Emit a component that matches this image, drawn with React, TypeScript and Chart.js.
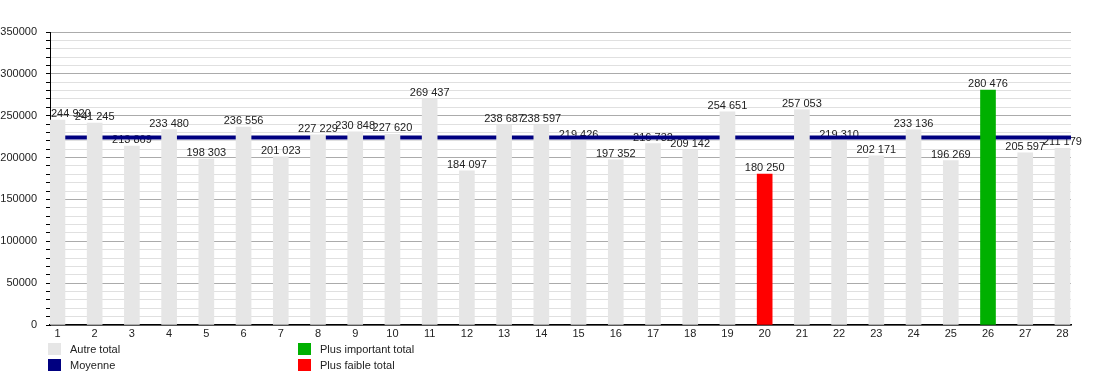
import React, { useEffect, useRef } from "react";
import { Chart, registerables } from "chart.js";

Chart.register(...registerables);

const days: number[] = [
  1, 2, 3, 4, 5, 6, 7, 8, 9, 10, 11, 12, 13, 14, 15, 16, 17, 18, 19, 20, 21, 22, 23, 24, 25, 26, 27, 28,
];
const totals: number[] = [
  244920, 241245, 213869, 233480, 198303, 236556, 201023, 227229, 230848, 227620, 269437, 184097,
  238687, 238597, 219426, 197352, 216732, 209142, 254651, 180250, 257053, 219310, 202171, 233136,
  196269, 280476, 205597, 211179,
];
const yTicks: number[] = [0, 50000, 100000, 150000, 200000, 250000, 300000, 350000];
const legendLabels: string[] = ["Autre total", "Moyenne", "Plus important total", "Plus faible total"];

const X_MIN = 0.8;
const X_MAX = 28.23;
const FONT = "'Liberation Sans', Arial, sans-serif";

const COL_OTHER = "#e6e6e6";
const COL_MEAN = "#000080";
const COL_MAX = "#00b000";
const COL_MIN = "#ff0000";

function fmt(v: number): string {
  return String(Math.round(v)).replace(/\B(?=(\d{3})+(?!\d))/g, " ");
}

const labelPlugin = {
  id: "barLabels",
  beforeDatasetsDraw(chart: any) {
    const ctx = chart.ctx;
    const meta = chart.getDatasetMeta(0);
    const area = chart.chartArea;
    ctx.save();
    ctx.font = `11px ${FONT}`;
    ctx.fillStyle = "#222";
    ctx.textBaseline = "alphabetic";
    ctx.textAlign = "left";
    meta.data.forEach((el: any, i: number) => {
      const text = fmt(totals[i]);
      const w = ctx.measureText(text).width;
      let x = el.x - w / 2;
      if (x < area.left + 1) x = area.left + 1;
      ctx.fillText(text, x, el.y - 3);
    });
    ctx.restore();
  },
};

export default function App() {
  const ref = useRef<HTMLCanvasElement | null>(null);

  useEffect(() => {
    if (!ref.current) return;
    const maxV = Math.max(...totals);
    const minV = Math.min(...totals);
    const mean = totals.reduce((a, b) => a + b, 0) / totals.length;
    const colors = totals.map((v) => (v === maxV ? COL_MAX : v === minV ? COL_MIN : COL_OTHER));

    const chart = new Chart(ref.current, {
      type: "bar",
      data: {
        datasets: [
          {
            type: "bar",
            label: "Totaux",
            data: totals.map((v, i) => ({ x: days[i], y: v })),
            backgroundColor: colors,
            borderWidth: 0,
            barThickness: 15,
            order: 1,
          } as any,
          {
            type: "line",
            label: "Moyenne",
            data: [
              { x: X_MIN, y: mean },
              { x: X_MAX, y: mean },
            ],
            borderColor: COL_MEAN,
            borderWidth: 4,
            pointRadius: 0,
            order: 2,
          } as any,
        ],
      },
      options: {
        animation: false,
        responsive: false,
        layout: { padding: { top: 32, right: 29, left: 0, bottom: 0 } },
        plugins: {
          legend: { display: false },
          tooltip: { enabled: false },
        },
        scales: {
          x: {
            type: "linear",
            min: X_MIN,
            max: X_MAX,
            offset: false,
            grid: { display: false, drawTicks: false, offset: false },
            border: { display: true, color: "#000", width: 1.5 },
            afterBuildTicks: (scale: any) => {
              scale.ticks = days.map((d) => ({ value: d }));
            },
            afterFit: (scale: any) => {
              scale.height = 50;
            },
            ticks: {
              padding: 2,
              color: "#222",
              font: { family: FONT, size: 11 },
              callback: (v: any) => String(v),
              maxRotation: 0,
              autoSkip: false,
            },
          },
          y: {
            type: "linear",
            min: 0,
            max: 350000,
            afterBuildTicks: (scale: any) => {
              const t: any[] = [];
              for (let v = 0; v <= 350000; v += 10000) t.push({ value: v });
              scale.ticks = t;
            },
            afterFit: (scale: any) => {
              scale.width = 50;
            },
            grid: {
              color: (c: any) => (c.tick && c.tick.value % 50000 === 0 ? "#ababab" : "#e0e0e0"),
              tickColor: "#000",
              tickLength: 4,
              lineWidth: 1,
            },
            border: { display: true, color: "#000", width: 1 },
            ticks: {
              padding: 9,
              color: "#222",
              font: { family: FONT, size: 11 },
              autoSkip: false,
              callback: (v: any) => (yTicks.includes(Number(v)) ? String(v) : ""),
            },
          },
        },
      },
      plugins: [labelPlugin],
    });
    return () => chart.destroy();
  }, []);

  const legendItems = [
    { label: legendLabels[0], color: COL_OTHER, left: 48, top: 343 },
    { label: legendLabels[1], color: COL_MEAN, left: 48, top: 359 },
    { label: legendLabels[2], color: COL_MAX, left: 298, top: 343 },
    { label: legendLabels[3], color: COL_MIN, left: 298, top: 359 },
  ];

  return (
    <div style={{ position: "absolute", left: 0, top: 0, width: 1100, height: 375, background: "#fff" }}>
      <canvas ref={ref} width={1100} height={375} style={{ display: "block" }} />
      {legendItems.map((it) => (
        <React.Fragment key={it.label}>
          <div
            style={{
              position: "absolute",
              left: it.left,
              top: it.top,
              width: 13,
              height: 12,
              background: it.color,
            }}
          />
          <div
            style={{
              position: "absolute",
              left: it.left + 22,
              top: it.top - 1,
              lineHeight: "14px",
              fontSize: 11,
              fontFamily: FONT,
              color: "#222",
              whiteSpace: "nowrap",
            }}
          >
            {it.label}
          </div>
        </React.Fragment>
      ))}
    </div>
  );
}
